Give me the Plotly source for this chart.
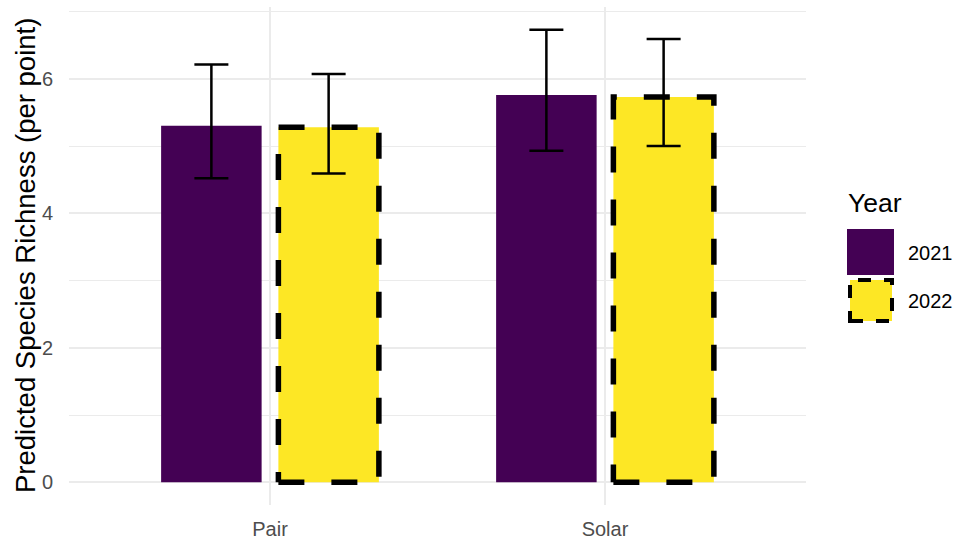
import plotly.graph_objects as go

# Predicted species richness per point, by site type and survey year
groups = ["Pair", "Solar"]
years = ["2021", "2022"]
richness_2021 = [5.30, 5.76]
richness_2022 = [5.28, 5.73]
lower_2021 = [4.52, 4.93]
upper_2021 = [6.21, 6.73]
lower_2022 = [4.59, 5.00]
upper_2022 = [6.07, 6.59]

y_ticks = [0, 2, 4, 6]

colors = {"2021": "#440154", "2022": "#FDE725"}
FONT = "Liberation Sans, Arial, sans-serif"

BAR_W = 0.3
DODGE = 0.175
ERR_HALF_PX = 17

# plot-area geometry in pixels (used for paper-coordinate legend)
W, H = 956, 540
ML, MR, MT, MB = 69, 150, 7, 35
PW, PH = W - ML - MR, H - MT - MB


def px_x(px):
    return (px - ML) / PW


def px_y(py):
    return (H - MB - py) / PH


fig = go.Figure()

series = [
    ("2021", richness_2021, lower_2021, upper_2021, -DODGE),
    ("2022", richness_2022, lower_2022, upper_2022, +DODGE),
]

# filled bars
for year, vals, lo, hi, off in series:
    xs = [i + 1 + off for i in range(len(groups))]
    fig.add_trace(go.Bar(
        x=xs, y=vals, width=BAR_W,
        marker=dict(color=colors[year], line=dict(width=0)),
        showlegend=False, hoverinfo="skip",
    ))

# dashed outline for the 2022 bars
for year, vals, lo, hi, off in series:
    if year != "2022":
        continue
    for i, v in enumerate(vals):
        xc = i + 1 + off
        xl, xr = xc - BAR_W / 2, xc + BAR_W / 2
        fig.add_trace(go.Scatter(
            x=[xl, xr, xr, xl, xl], y=[0, 0, v, v, 0],
            mode="lines",
            line=dict(color="black", width=5.5, dash="26px,27px", simplify=False),
            showlegend=False, hoverinfo="skip",
        ))

# error bars
for year, vals, lo, hi, off in series:
    xs = [i + 1 + off for i in range(len(groups))]
    fig.add_trace(go.Scatter(
        x=xs, y=vals, mode="markers",
        marker=dict(size=1, color="rgba(0,0,0,0)"),
        error_y=dict(
            type="data", symmetric=False,
            array=[h - v for h, v in zip(hi, vals)],
            arrayminus=[v - l for v, l in zip(vals, lo)],
            color="black", thickness=2.5, width=ERR_HALF_PX,
        ),
        showlegend=False, hoverinfo="skip",
    ))

# legend drawn in paper coordinates
shapes = [
    dict(type="rect", xref="paper", yref="paper",
         x0=px_x(847), x1=px_x(894), y0=px_y(275), y1=px_y(229),
         fillcolor=colors["2021"], line=dict(width=0), layer="above"),
    dict(type="rect", xref="paper", yref="paper",
         x0=px_x(850), x1=px_x(892), y0=px_y(321), y1=px_y(280),
         fillcolor=colors["2022"],
         line=dict(color="black", width=4, dash="13px,13px"), layer="above"),
]

annotations = [
    dict(text="Predicted Species Richness (per point)", textangle=-90,
         xref="paper", yref="paper", x=px_x(25), y=px_y(256),
         xanchor="center", yanchor="middle", showarrow=False,
         font=dict(family=FONT, size=27.5, color="black")),
    dict(text="Year", xref="paper", yref="paper", x=px_x(846), y=px_y(203),
         xanchor="left", yanchor="middle", showarrow=False,
         font=dict(family=FONT, size=26.5, color="black")),
]
for yr, cy in zip(years, [253, 301]):
    annotations.append(dict(
        text=yr, xref="paper", yref="paper", x=px_x(906), y=px_y(cy),
        xanchor="left", yanchor="middle", showarrow=False,
        font=dict(family=FONT, size=20, color="black")))

fig.update_layout(
    width=W, height=H,
    margin=dict(l=ML, r=MR, t=MT, b=MB, pad=0, autoexpand=False),
    paper_bgcolor="white", plot_bgcolor="white",
    barmode="overlay",
    font=dict(family=FONT, size=20, color="#4D4D4D"),
    shapes=shapes, annotations=annotations,
    showlegend=False,
)

fig.update_xaxes(
    range=[0.4, 2.6], automargin=False,
    tickmode="array", tickvals=[1, 2], ticktext=groups,
    showgrid=True, gridcolor="#EBEBEB", gridwidth=2,
    zeroline=False, showline=False, ticks="",
    ticklabelstandoff=10,
    tickfont=dict(family=FONT, size=20, color="#4D4D4D"),
)
fig.update_yaxes(
    range=[-0.3365, 7.0665], automargin=False,
    tickmode="array", tickvals=y_ticks, ticktext=[str(t) for t in y_ticks],
    showgrid=True, gridcolor="#EBEBEB", gridwidth=2,
    minor=dict(tickvals=[1, 3, 5, 7], showgrid=True, gridcolor="#EBEBEB", gridwidth=1),
    zeroline=False, showline=False, ticks="",
    ticklabelstandoff=15,
    tickfont=dict(family=FONT, size=20, color="#4D4D4D"),
)

fig.write_html("out.html")
